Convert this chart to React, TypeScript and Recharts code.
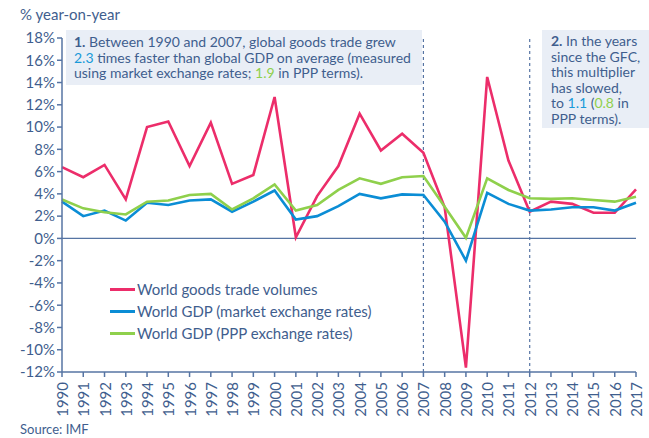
import React from "react";
import {
  LineChart,
  Line,
  XAxis,
  YAxis,
  ReferenceLine,
} from "recharts";

const YEARS = [
  "1990", "1991", "1992", "1993", "1994", "1995", "1996", "1997", "1998", "1999",
  "2000", "2001", "2002", "2003", "2004", "2005", "2006", "2007", "2008", "2009",
  "2010", "2011", "2012", "2013", "2014", "2015", "2016", "2017",
];

const TRADE = [
  6.4, 5.5, 6.6, 3.5, 10.0, 10.5, 6.5, 10.4, 4.9, 5.7,
  12.7, 0.1, 3.8, 6.5, 11.2, 7.9, 9.4, 7.7, 2.8, -11.6,
  14.5, 7.0, 2.4, 3.3, 3.1, 2.3, 2.3, 4.4,
];

const GDP_MARKET = [
  3.3, 2.0, 2.5, 1.6, 3.2, 3.0, 3.4, 3.5, 2.4, 3.3,
  4.3, 1.7, 2.0, 2.9, 4.0, 3.6, 3.95, 3.9, 1.5, -2.0,
  4.1, 3.1, 2.5, 2.6, 2.8, 2.8, 2.5, 3.2,
];

const GDP_PPP = [
  3.5, 2.7, 2.35, 2.15, 3.3, 3.4, 3.9, 4.0, 2.6, 3.6,
  4.85, 2.5, 3.0, 4.35, 5.4, 4.9, 5.5, 5.6, 2.85, 0.05,
  5.4, 4.35, 3.6, 3.55, 3.6, 3.45, 3.3, 3.75,
];

const Y_TICKS = [-12, -10, -8, -6, -4, -2, 0, 2, 4, 6, 8, 10, 12, 14, 16, 18];

const SERIES = [
  { key: "trade", name: "World goods trade volumes", color: "#EC2D6A" },
  { key: "gdpMarket", name: "World GDP (market exchange rates)", color: "#0B8DD5" },
  { key: "gdpPpp", name: "World GDP (PPP exchange rates)", color: "#8FD04C" },
];

const data = YEARS.map((year, i) => ({
  year,
  trade: TRADE[i],
  gdpMarket: GDP_MARKET[i],
  gdpPpp: GDP_PPP[i],
}));

const TEXT = "#3F5E8E";
const AXIS = "#5674A3";
const FONT = "Lato, 'Open Sans', sans-serif";

function YearTick({ x, y, payload }: { x?: number; y?: number; payload?: { value: string } }) {
  if (x === undefined || y === undefined || !payload) return null;
  const ty = y + 3;
  return (
    <text
      x={x}
      y={ty}
      transform={`rotate(-90 ${x} ${ty})`}
      textAnchor="end"
      dominantBaseline="central"
      fill={TEXT}
      fontSize={15}
      fontFamily={FONT}
    >
      {payload.value}
    </text>
  );
}

const boxStyle: React.CSSProperties = {
  position: "absolute",
  background: "#E9EEF6",
  color: TEXT,
  fontFamily: FONT,
  fontSize: 14,
  lineHeight: "15.6px",
  boxSizing: "border-box",
};

export default function App() {
  return (
    <div style={{ position: "absolute", left: 0, top: 0, width: 649, height: 438, background: "#fff" }}>
      <div style={{ position: "absolute", left: 20, top: 5, fontFamily: FONT, fontSize: 15, color: TEXT }}>
        % year-on-year
      </div>
      <LineChart
        width={649}
        height={438}
        data={data}
        margin={{ top: 38, right: 13, bottom: 0, left: 0 }}
      >
        <XAxis
          dataKey="year"
          height={66}
          interval={0}
          axisLine={{ stroke: AXIS, strokeWidth: 1.5 }}
          tickLine={{ stroke: AXIS, strokeWidth: 1.5 }}
          tickSize={5}
          tick={<YearTick />}
        />
        <YAxis
          width={62}
          domain={[-12, 18]}
          ticks={Y_TICKS}
          interval={0}
          tickFormatter={(v: number) => `${v}%`}
          axisLine={{ stroke: AXIS, strokeWidth: 1.5 }}
          tickLine={{ stroke: AXIS, strokeWidth: 1.5 }}
          tickSize={5}
          tick={{ fill: TEXT, fontSize: 15, fontFamily: FONT }}
        />
        <ReferenceLine y={0} stroke={AXIS} strokeWidth={1.2} />
        <ReferenceLine x="2007" stroke={AXIS} strokeDasharray="3 3" strokeWidth={1.2} />
        <ReferenceLine x="2012" stroke={AXIS} strokeDasharray="3 3" strokeWidth={1.2} />
        {SERIES.map((s) => (
          <Line
            key={s.key}
            dataKey={s.key}
            name={s.name}
            type="linear"
            stroke={s.color}
            strokeWidth={2.6}
            dot={false}
            activeDot={false}
            isAnimationActive={false}
          />
        ))}
      </LineChart>
      <div style={{ position: "absolute", left: 110, top: 278, fontFamily: FONT, fontSize: 15, color: TEXT }}>
        {SERIES.map((s) => (
          <div key={s.key} style={{ display: "flex", alignItems: "center", height: 22 }}>
            <span style={{ display: "inline-block", width: 25, height: 3, background: s.color, marginRight: 2 }} />
            <span>{s.name}</span>
          </div>
        ))}
      </div>
      <div style={{ ...boxStyle, left: 66, top: 30, width: 356, height: 55, padding: "4px 0 0 8px" }}>
        <b>1.</b> Between 1990 and 2007, global goods trade grew
        <br />
        <span style={{ color: "#1A9AD9" }}>2.3</span> times faster than global GDP on average (measured
        <br />
        using market exchange rates; <span style={{ color: "#8FD04C" }}>1.9</span> in PPP terms).
      </div>
      <div style={{ ...boxStyle, left: 542, top: 30, width: 107, height: 98, padding: "3px 0 0 9px" }}>
        <b>2.</b> In the years
        <br />
        since the GFC,
        <br />
        this multiplier
        <br />
        has slowed,
        <br />
        to <span style={{ color: "#1A9AD9" }}>1.1</span> (<span style={{ color: "#8FD04C" }}>0.8</span> in
        <br />
        PPP terms).
      </div>
      <div style={{ position: "absolute", left: 20, top: 421, fontFamily: FONT, fontSize: 13, color: TEXT }}>
        Source: IMF
      </div>
    </div>
  );
}
